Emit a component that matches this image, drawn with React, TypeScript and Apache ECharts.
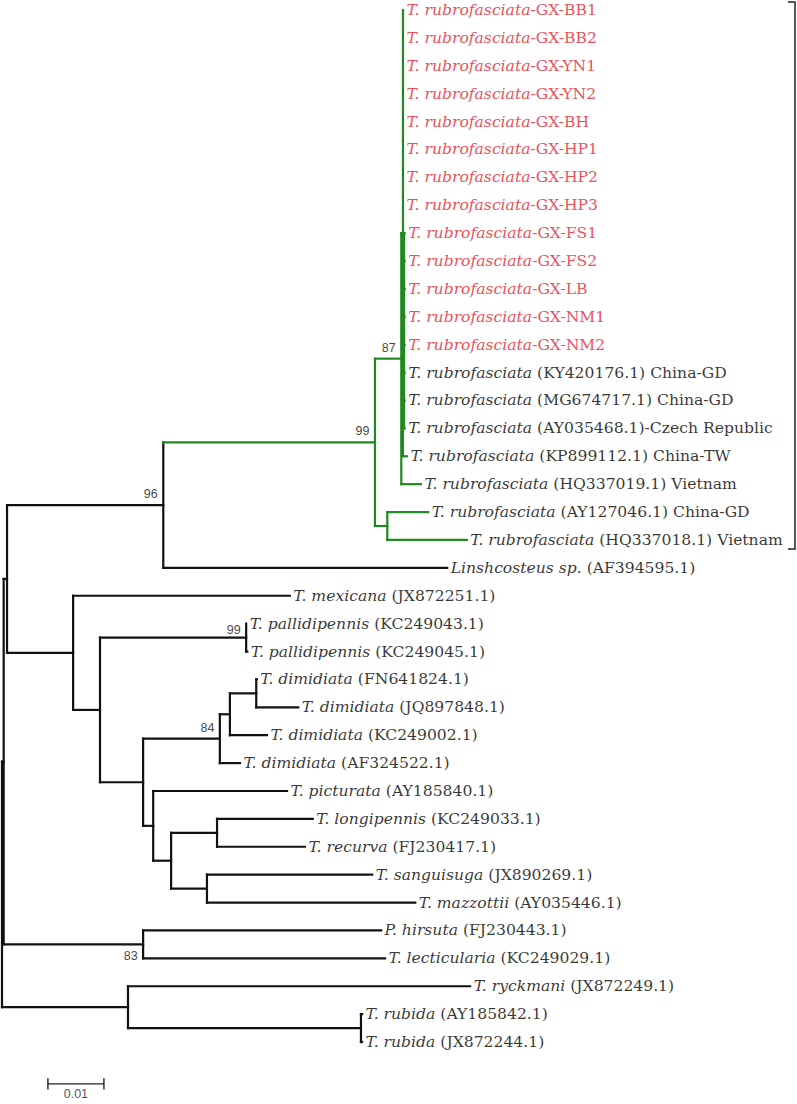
import React, { useEffect, useRef } from "react";
import * as echarts from "echarts";

// ---- Leaves (top to bottom), tip positions in substitutions/site from root
const taxonItalic = [
  "T. rubrofasciata", "T. rubrofasciata", "T. rubrofasciata", "T. rubrofasciata",
  "T. rubrofasciata", "T. rubrofasciata", "T. rubrofasciata", "T. rubrofasciata",
  "T. rubrofasciata", "T. rubrofasciata", "T. rubrofasciata", "T. rubrofasciata",
  "T. rubrofasciata", "T. rubrofasciata", "T. rubrofasciata", "T. rubrofasciata",
  "T. rubrofasciata", "T. rubrofasciata", "T. rubrofasciata", "T. rubrofasciata",
  "Linshcosteus sp.", "T. mexicana", "T. pallidipennis", "T. pallidipennis",
  "T. dimidiata", "T. dimidiata", "T. dimidiata", "T. dimidiata",
  "T. picturata", "T. longipennis", "T. recurva", "T. sanguisuga",
  "T. mazzottii", "P. hirsuta", "T. lecticularia", "T. ryckmani",
  "T. rubida", "T. rubida",
];
const taxonSuffix = [
  "-GX-BB1", "-GX-BB2", "-GX-YN1", "-GX-YN2", "-GX-BH", "-GX-HP1", "-GX-HP2",
  "-GX-HP3", "-GX-FS1", "-GX-FS2", "-GX-LB", "-GX-NM1", "-GX-NM2",
  " (KY420176.1) China-GD", " (MG674717.1) China-GD", " (AY035468.1)-Czech Republic",
  " (KP899112.1) China-TW", " (HQ337019.1) Vietnam", " (AY127046.1) China-GD",
  " (HQ337018.1) Vietnam", " (AF394595.1)", " (JX872251.1)", " (KC249043.1)",
  " (KC249045.1)", " (FN641824.1)", " (JQ897848.1)", " (KC249002.1)", " (AF324522.1)",
  " (AY185840.1)", " (KC249033.1)", " (FJ230417.1)", " (JX890269.1)", " (AY035446.1)",
  " (FJ230443.1)", " (KC249029.1)", " (JX872249.1)", " (AY185842.1)", " (JX872244.1)",
];
const taxonTip = [
  0.0716, 0.0716, 0.0716, 0.0716, 0.0716, 0.0716, 0.0716, 0.0716,
  0.0719, 0.0719, 0.0719, 0.0719, 0.0719, 0.0719, 0.0719, 0.0719,
  0.0723, 0.0748, 0.0761, 0.0830,
  0.0795, 0.0514, 0.0436, 0.0438,
  0.0455, 0.0529, 0.0473, 0.0425,
  0.0509, 0.0555, 0.0541, 0.0661,
  0.0738, 0.0677, 0.0684, 0.0836,
  0.0643, 0.0643,
];
// isolates sequenced in this study (highlighted)
const newIsolateCount = 13;

// ---- Internal nodes: depth from root and children (numbers = leaf index, strings = node)
const nodeNames = ["root", "A", "B", "n96", "n99", "n87", "S1", "S2", "M", "C", "D", "nPal", "F", "n84", "G", "H", "I", "J", "K", "L", "N", "R", "nRub"];
const nodeDepth = [0, 0.0003, 0.0009, 0.0288, 0.0666, 0.0713, 0.0716, 0.0718, 0.0688, 0.0127, 0.0175, 0.0436, 0.0252, 0.0389, 0.0407, 0.0454, 0.0270, 0.0302, 0.0384, 0.0366, 0.0252, 0.0225, 0.0641];
const nodeChildren: (number | string)[][] = [
  ["A", "R"],
  ["B", "N"],
  ["n96", "C"],
  ["n99", 20],
  ["n87", "M"],
  ["S1", 17],
  [0, 1, 2, 3, 4, 5, 6, 7, "S2", 16],
  [8, 9, 10, 11, 12, 13, 14, 15],
  [18, 19],
  [21, "D"],
  ["nPal", "F"],
  [22, 23],
  ["n84", "I"],
  ["G", 27],
  ["H", 26],
  [24, 25],
  [28, "J"],
  ["K", "L"],
  [29, 30],
  [31, 32],
  [33, 34],
  [35, "nRub"],
  [36, 37],
];
// bootstrap support
const supportNode = ["n99", "n87", "n96", "nPal", "n84", "N"];
const supportValue = [99, 87, 96, 99, 84, 83];
const highlightedClade = "n99";
const scaleBarLength = 0.01;
const scaleBarLabel = "0.01";

const BLACK = "#111111";
const GREEN = "#1f8a1f";
const RED = "#e8202a";
const SERIF = "'DejaVu Serif', 'Liberation Serif', serif";
const SANS = "'Liberation Sans', Arial, sans-serif";
const LW = 2.2;
const FS = 15.6;

function buildOption() {
  const idx = (n: string) => nodeNames.indexOf(n);
  const yOf = (c: number | string): number => {
    if (typeof c === "number") return c + 1;
    const ch = nodeChildren[idx(c)];
    return (yOf(ch[0]) + yOf(ch[ch.length - 1])) / 2;
  };
  const xOf = (c: number | string): number =>
    typeof c === "number" ? taxonTip[c] : nodeDepth[idx(c)];

  const greenSet = new Set<string>();
  const mark = (n: string) => {
    greenSet.add(n);
    nodeChildren[idx(n)].forEach((c) => typeof c === "string" && mark(c));
  };
  mark(highlightedClade);
  const greenLeaves = new Set<number>();
  greenSet.forEach((n) =>
    nodeChildren[idx(n)].forEach((c) => typeof c === "number" && greenLeaves.add(c))
  );

  const segs: any[] = [];
  nodeNames.forEach((name, i) => {
    const x = nodeDepth[i];
    const ch = nodeChildren[i];
    const col = greenSet.has(name) ? GREEN : BLACK;
    segs.push({ coords: [[x, yOf(ch[0])], [x, yOf(ch[ch.length - 1])]], lineStyle: { color: col, width: LW } });
    ch.forEach((c) => {
      const cx = xOf(c);
      if (cx - x < 1e-6) return;
      const isGreen = typeof c === "string" ? greenSet.has(c) : greenLeaves.has(c);
      segs.push({ coords: [[x, yOf(c)], [cx, yOf(c)]], lineStyle: { color: isGreen ? GREEN : BLACK, width: LW } });
    });
  });

  const leafData = taxonItalic.map((it, i) => {
    const red = i < newIsolateCount;
    const color = red ? RED : "#000";
    return {
      value: [taxonTip[i], i + 1],
      label: {
        color,
        formatter: `{i|${it}}{n|${taxonSuffix[i]}}`,
        rich: {
          i: { fontStyle: "italic", fontFamily: SERIF, fontSize: FS, color },
          n: { fontFamily: SERIF, fontSize: FS, color },
        },
      },
    };
  });

  const supData = supportNode.map((n, k) => ({
    value: [nodeDepth[idx(n)], yOf(n)],
    label: {
      formatter: String(supportValue[k]),
      offset: n === "N" ? [0, 12] : [0, n === "nPal" ? -8 : -11],
    },
  }));

  const sbX = 0.0082;
  const sbY = 39.5;
  const tick = 0.2;
  const sbSegs = [
    { coords: [[sbX, sbY], [sbX + scaleBarLength, sbY]] },
    { coords: [[sbX, sbY - tick], [sbX, sbY + tick]] },
    { coords: [[sbX + scaleBarLength, sbY - tick], [sbX + scaleBarLength, sbY + tick]] },
  ];

  const hidden = { color: "rgba(0,0,0,0)" };

  return {
    animation: false,
    backgroundColor: "#ffffff",
    grid: { left: 2, right: 0, top: 0, bottom: 0 },
    xAxis: { type: "value", min: 0, max: 0.141964, show: false },
    yAxis: { type: "value", min: 0.64147, max: 40.2225, inverse: true, show: false },
    graphic: [
      {
        type: "polyline",
        shape: { points: [[788, 2], [795, 2], [795, 549], [788, 549]] },
        style: { stroke: "#222", lineWidth: 1.5, fill: null },
      },
    ],
    series: [
      {
        type: "lines",
        coordinateSystem: "cartesian2d",
        polyline: true,
        silent: true,
        lineStyle: { width: LW, cap: "square", opacity: 1 },
        data: segs,
      },
      {
        type: "lines",
        coordinateSystem: "cartesian2d",
        polyline: true,
        silent: true,
        lineStyle: { width: 1.4, color: "#222", opacity: 1 },
        data: sbSegs,
      },
      {
        type: "scatter",
        symbolSize: 1,
        itemStyle: hidden,
        silent: true,
        label: { show: true, position: "right", distance: 3, textBorderWidth: 0 },
        data: leafData,
      },
      {
        type: "scatter",
        symbolSize: 1,
        itemStyle: hidden,
        silent: true,
        label: { show: true, position: "left", distance: 5, fontFamily: SANS, fontSize: 12.5, color: "#111" },
        data: supData,
      },
      {
        type: "scatter",
        symbolSize: 1,
        itemStyle: hidden,
        silent: true,
        label: {
          show: true, position: "bottom", distance: 3, fontFamily: SANS, fontSize: 12.5, color: "#222",
          formatter: scaleBarLabel,
        },
        data: [[sbX + scaleBarLength / 2, sbY]],
      },
    ],
  };
}

export default function App() {
  const ref = useRef<HTMLDivElement>(null);
  useEffect(() => {
    if (!ref.current) return;
    const chart = echarts.init(ref.current, null, { renderer: "svg" });
    chart.setOption(buildOption() as any);
    return () => chart.dispose();
  }, []);
  return (
    <div
      ref={ref}
      style={{ position: "absolute", left: 0, top: 0, width: 797, height: 1104, background: "#fff" }}
    />
  );
}
